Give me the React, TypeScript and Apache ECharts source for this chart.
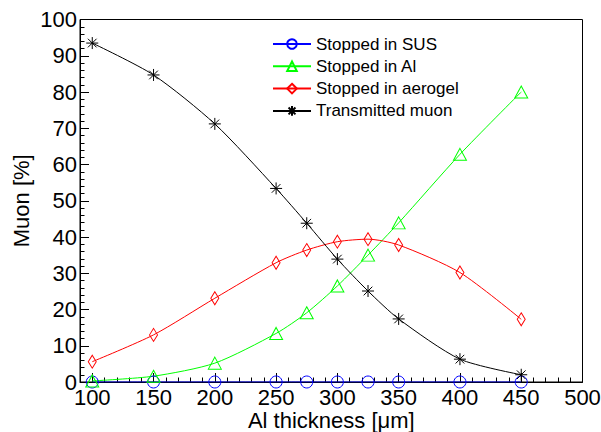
import React, { useEffect, useRef } from "react";
import * as echarts from "echarts";

const thickness = [100, 150, 200, 250, 275, 300, 325, 350, 400, 450];
const stoppedSUS = [0, 0, 0, 0, 0, 0, 0, 0, 0, 0];
const stoppedAl = [0.3, 1.6, 5.2, 13.4, 19.1, 26.5, 35.0, 43.9, 62.8, 80.0];
const stoppedAerogel = [5.6, 13.0, 23.1, 32.9, 36.4, 38.7, 39.4, 37.8, 30.2, 17.3];
const transmitted = [93.5, 84.7, 71.2, 53.4, 43.8, 33.9, 25.1, 17.4, 6.3, 2.0];

const xMajorTicks = [100, 150, 200, 250, 300, 350, 400, 450, 500];
const seriesNames = ["Stopped in SUS", "Stopped in Al", "Stopped in aerogel", "Transmitted muon"];

const FONT = "Liberation Sans, Arial, Helvetica, sans-serif";
const STAR = "path://M0,-1L0,1M-1,0L1,0M-0.72,-0.72L0.72,0.72M-0.72,0.72L0.72,-0.72";

function pairs(ys: number[]) {
  return thickness.map((x, i) => [x, ys[i]]);
}

export default function App() {
  const ref = useRef<HTMLDivElement>(null);
  useEffect(() => {
    if (!ref.current) return;
    const chart = echarts.init(ref.current, undefined, { renderer: "svg" });
    const clear = "rgba(0,0,0,0)";
    const mk = (name: string, ys: number[], color: string, symbol: string, size: any) => ({
      name,
      type: "line",
      data: pairs(ys),
      xAxisIndex: 0,
      yAxisIndex: 0,
      smooth: 0.25,
      symbol,
      symbolSize: size,
      showSymbol: true,
      lineStyle: { color, width: 1 },
      itemStyle: { color: clear, borderColor: color, borderWidth: 1 },
      emphasis: { disabled: true },
    });
    chart.setOption({
      animation: false,
      backgroundColor: "#fff",
      textStyle: { fontFamily: FONT },
      grid: {
        left: 80,
        top: 19.5,
        right: 18.5,
        bottom: 50,
        containLabel: false,
        outerBoundsMode: "none",
        show: true,
        borderColor: "#000",
        borderWidth: 1,
        backgroundColor: "transparent",
      },
      legend: {
        orient: "vertical",
        left: 272,
        top: 35,
        padding: 0,
        itemWidth: 38,
        itemHeight: 12,
        itemGap: 4.3,
        data: seriesNames,
        textStyle: { fontFamily: FONT, fontSize: 17, color: "#000", lineHeight: 18 },
        selectedMode: false,
      },
      xAxis: [
        {
          type: "value",
          min: 90,
          max: 500,
          position: "bottom",
          name: "Al thickness [\u03bcm]",
          nameLocation: "middle",
          nameGap: 27,
          nameMoveOverlap: false,
          nameTextStyle: { fontFamily: FONT, fontSize: 22, color: "#000", lineHeight: 22 },
          axisLine: { show: true, onZero: false, lineStyle: { color: "#000", width: 1 } },
          axisTick: { show: true, inside: true, length: 9, customValues: xMajorTicks, lineStyle: { color: "#000" } },
          axisLabel: { show: true, customValues: xMajorTicks, fontSize: 22, color: "#000", margin: 4, fontFamily: FONT },
          splitLine: { show: false },
        },
        {
          type: "value",
          min: 90,
          max: 500,
          interval: 10,
          position: "bottom",
          axisLine: { show: false, onZero: false },
          axisTick: { show: true, inside: true, length: 4.5, lineStyle: { color: "#000" } },
          axisLabel: { show: false },
          splitLine: { show: false },
        },
      ],
      yAxis: {
        type: "value",
        min: 0,
        max: 100,
        interval: 10,
        name: "Muon [%]",
        nameLocation: "middle",
        nameGap: 48,
        nameMoveOverlap: false,
        nameTextStyle: { fontFamily: FONT, fontSize: 22, color: "#000", lineHeight: 22 },
        axisLine: { show: true, onZero: false, lineStyle: { color: "#000", width: 1 } },
        axisTick: { show: true, inside: true, length: 9, lineStyle: { color: "#000" } },
        minorTick: { show: true, splitNumber: 5, length: 4.5, lineStyle: { color: "#000" } },
        axisLabel: { fontSize: 22, color: "#000", margin: 3, fontFamily: FONT },
        splitLine: { show: false },
        minorSplitLine: { show: false },
      },
      series: [
        mk(seriesNames[0], stoppedSUS, "#0000ff", "circle", 12),
        mk(seriesNames[1], stoppedAl, "#00ff00", "triangle", [13, 12]),
        mk(seriesNames[2], stoppedAerogel, "#ff0000", "diamond", [8, 13]),
        mk(seriesNames[3], transmitted, "#000000", STAR, 12),
      ],
    });
    return () => chart.dispose();
  }, []);
  return (
    <div
      ref={ref}
      style={{ position: "fixed", left: 0, top: 0, width: 601, height: 432, background: "#fff" }}
    />
  );
}
